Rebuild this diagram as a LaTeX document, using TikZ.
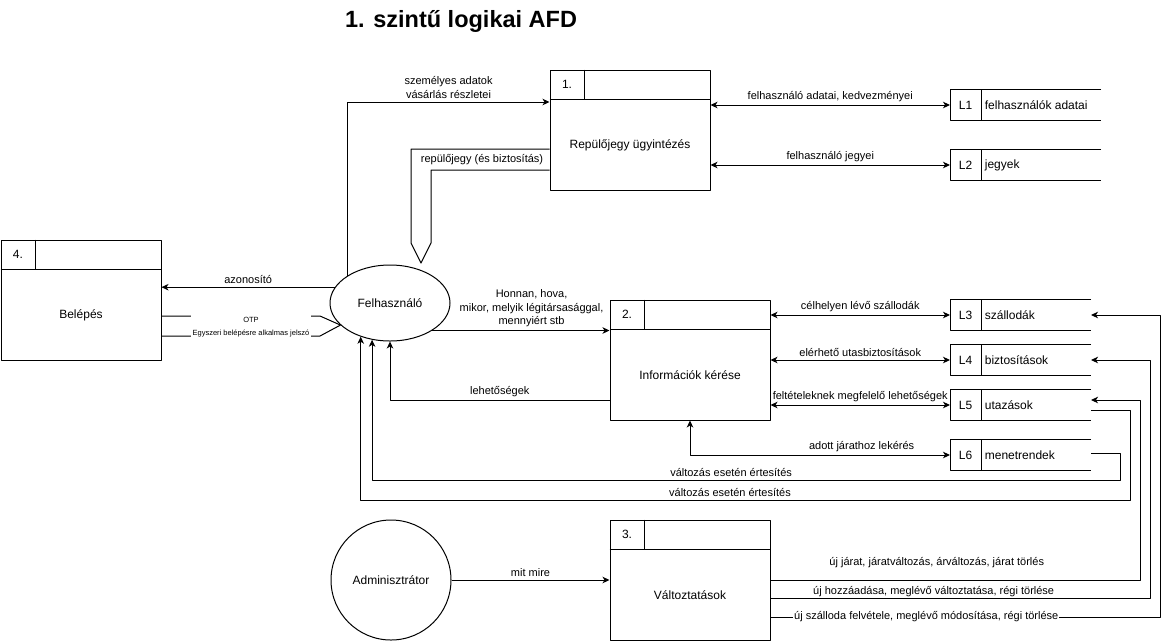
\documentclass[tikz,border=0pt]{standalone}
\usepackage{fontspec}
\setmainfont{Liberation Sans}
\usetikzlibrary{arrows.meta,shapes.geometric,calc}
\begin{document}
\begin{tikzpicture}[x=1pt,y=-1pt,line width=1pt,line join=round,
	>={Stealth[length=7pt,width=6.5pt,inset=2pt]},
	font=\fontsize{12}{14}\selectfont,
	proc/.style={draw,rectangle,minimum width=160pt,minimum height=120pt,inner sep=0pt},
	store/.style={rectangle,minimum height=30pt,inner sep=0pt},
	lbl/.style={font=\fontsize{11}{13.5}\selectfont,inner sep=1pt,align=center}]
	\useasboundingbox (0,0) rectangle (1169,641);
	\node[font=\bfseries\fontsize{23.5}{28}\selectfont] (title) at (461,21) {1. szintű logikai AFD};
	\node[proc] (p1) at (630,130) {};
	\node[proc] (p2) at (690,360) {};
	\node[proc] (p3) at (690,580) {};
	\node[proc] (p4) at (81,300) {};
	\foreach \p/\n/\t in {p1/1./Repülőjegy ügyintézés, p2/2./Információk kérése, p3/3./Változtatások, p4/4./Belépés}{
		\draw (\p.north west) ++(0,30) -- ++(160,0) (\p.north west) ++(35,0) -- ++(0,30);
		\node (\p-no) at ($(\p.north west)+(17.5,15)$) {\n};
		\node (\p-tx) at ($(\p.center)+(0,15)$) {\t};
	}
	\foreach \s/\id/\y/\w/\t in {l1/L1/105/150/felhasználók adatai, l2/L2/165/150/jegyek, l3/L3/315/140/szállodák, l4/L4/360/140/biztosítások, l5/L5/405/140/utazások, l6/L6/455/140/menetrendek}{
		\node[store,minimum width=\w pt,anchor=west] (\s) at (950,\y) {};
		\draw (\s.north east) -- (\s.north west) -- (\s.south west) -- (\s.south east)
		($(\s.north west)+(31,0)$) -- ($(\s.south west)+(31,0)$);
		\node (\s-id) at ($(\s.west)+(15.5,0)$) {\id};
		\node[anchor=west] (\s-tx) at ($(\s.west)+(31,0)$) {\t};
	}
	\node[draw,ellipse,minimum width=120pt,minimum height=76pt,inner sep=0pt] (user) at (390,303) {Felhasználó};
	\node[draw,circle,minimum size=120pt,inner sep=0pt] (admin) at (391,580) {Adminisztrátor};
	\draw[->] (user.147) |- node[lbl,above=2pt,pos=0.75] (e-sz) {személyes adatok\\vásárlás részletei} (p1.west |- 0,102);
	\draw (p1.west |- 0,149) -- (411,149) -- (411,243) -- (421,263) -- (431,243) -- (431,170) -- (p1.west |- 0,170);
	\node[lbl] (e-rj) at (482,159.5) {repülőjegy (és biztosítás)};
	\draw[->] (user.164) -- node[lbl,above=2pt] (e-az) {azonosító} (p4.east |- user.164);
	\draw (p4.east |- 0,316) -- (320,316) -- (user.-156) -- (320,336) -- (p4.east |- 0,336);
	\node[lbl,font=\fontsize{7.5}{13}\selectfont,fill=white,inner xsep=1.5pt,inner ysep=3pt] (e-otp) at (251,327) {OTP\\Egyszeri belépésre alkalmas jelszó};
	\draw[->] (user.-33) -- node[lbl,above=2pt,pos=0.56] (e-ho) {Honnan, hova,\\mikor, melyik légitársasággal,\\mennyiért stb} (p2.west |- user.-33);
	\draw[->] (p2.west |- 0,400) -| node[lbl,above=2pt,pos=0.25] (e-le) {lehetőségek} (user.south);
	\draw[->] (l6.east |- 0,453) -- (1120,453) -- (1120,480) -| node[lbl,above=2pt,pos=0.26] (e-v1) {változás esetén értesítés} (user.-116);
	\draw[->] (l5.east |- 0,410) -- (1130,410) -- (1130,500) -| node[lbl,above=2pt,pos=0.26] (e-v2) {változás esetén értesítés} (user.-131);
	\draw[<->] (p1.east |- l1.west) -- node[lbl,above=2pt] (e-l1) {felhasználó adatai, kedvezményei} (l1.west);
	\draw[<->] (p1.east |- l2.west) -- node[lbl,above=2pt] (e-l2) {felhasználó jegyei} (l2.west);
	\draw[<->] (p2.east |- l3.west) -- node[lbl,above=2pt] (e-l3) {célhelyen lévő szállodák} (l3.west);
	\draw[<->] (p2.east |- l4.west) -- node[lbl,above=2pt] (e-l4) {elérhető utasbiztosítások} (l4.west);
	\draw[<->] (p2.east |- l5.west) -- node[lbl,above=2pt] (e-l5) {feltételeknek megfelelő lehetőségek} (l5.west);
	\draw[<->] (p2.south) |- node[lbl,above=2pt,pos=0.83] (e-l6) {adott járathoz lekérés} (l6.west);
	\draw[->] (admin) -- node[lbl,above=2pt] (e-mm) {mit mire} (p3.west |- admin);
	\draw[->] (p3.east |- 0,580) -- node[lbl,above=11pt,pos=0.45] (e-p3a) {új járat, járatváltozás, árváltozás, járat törlés} (1140,580) -- (1140,400) -- (l5.east |- 0,400);
	\draw[->] (p3.east |- 0,598) -- node[lbl,fill=white,pos=0.43,yshift=6pt] (e-p3b) {új hozzáadása, meglévő változtatása, régi törlése} (1150,598) -- (1150,360) -- (l4.east);
	\draw[->] (p3.east |- 0,617) -- node[lbl,fill=white,pos=0.4] (e-p3c) {új szálloda felvétele, meglévő módosítása, régi törlése} (1160,617) -- (1160,315) -- (l3.east);
\end{tikzpicture}
\end{document}
